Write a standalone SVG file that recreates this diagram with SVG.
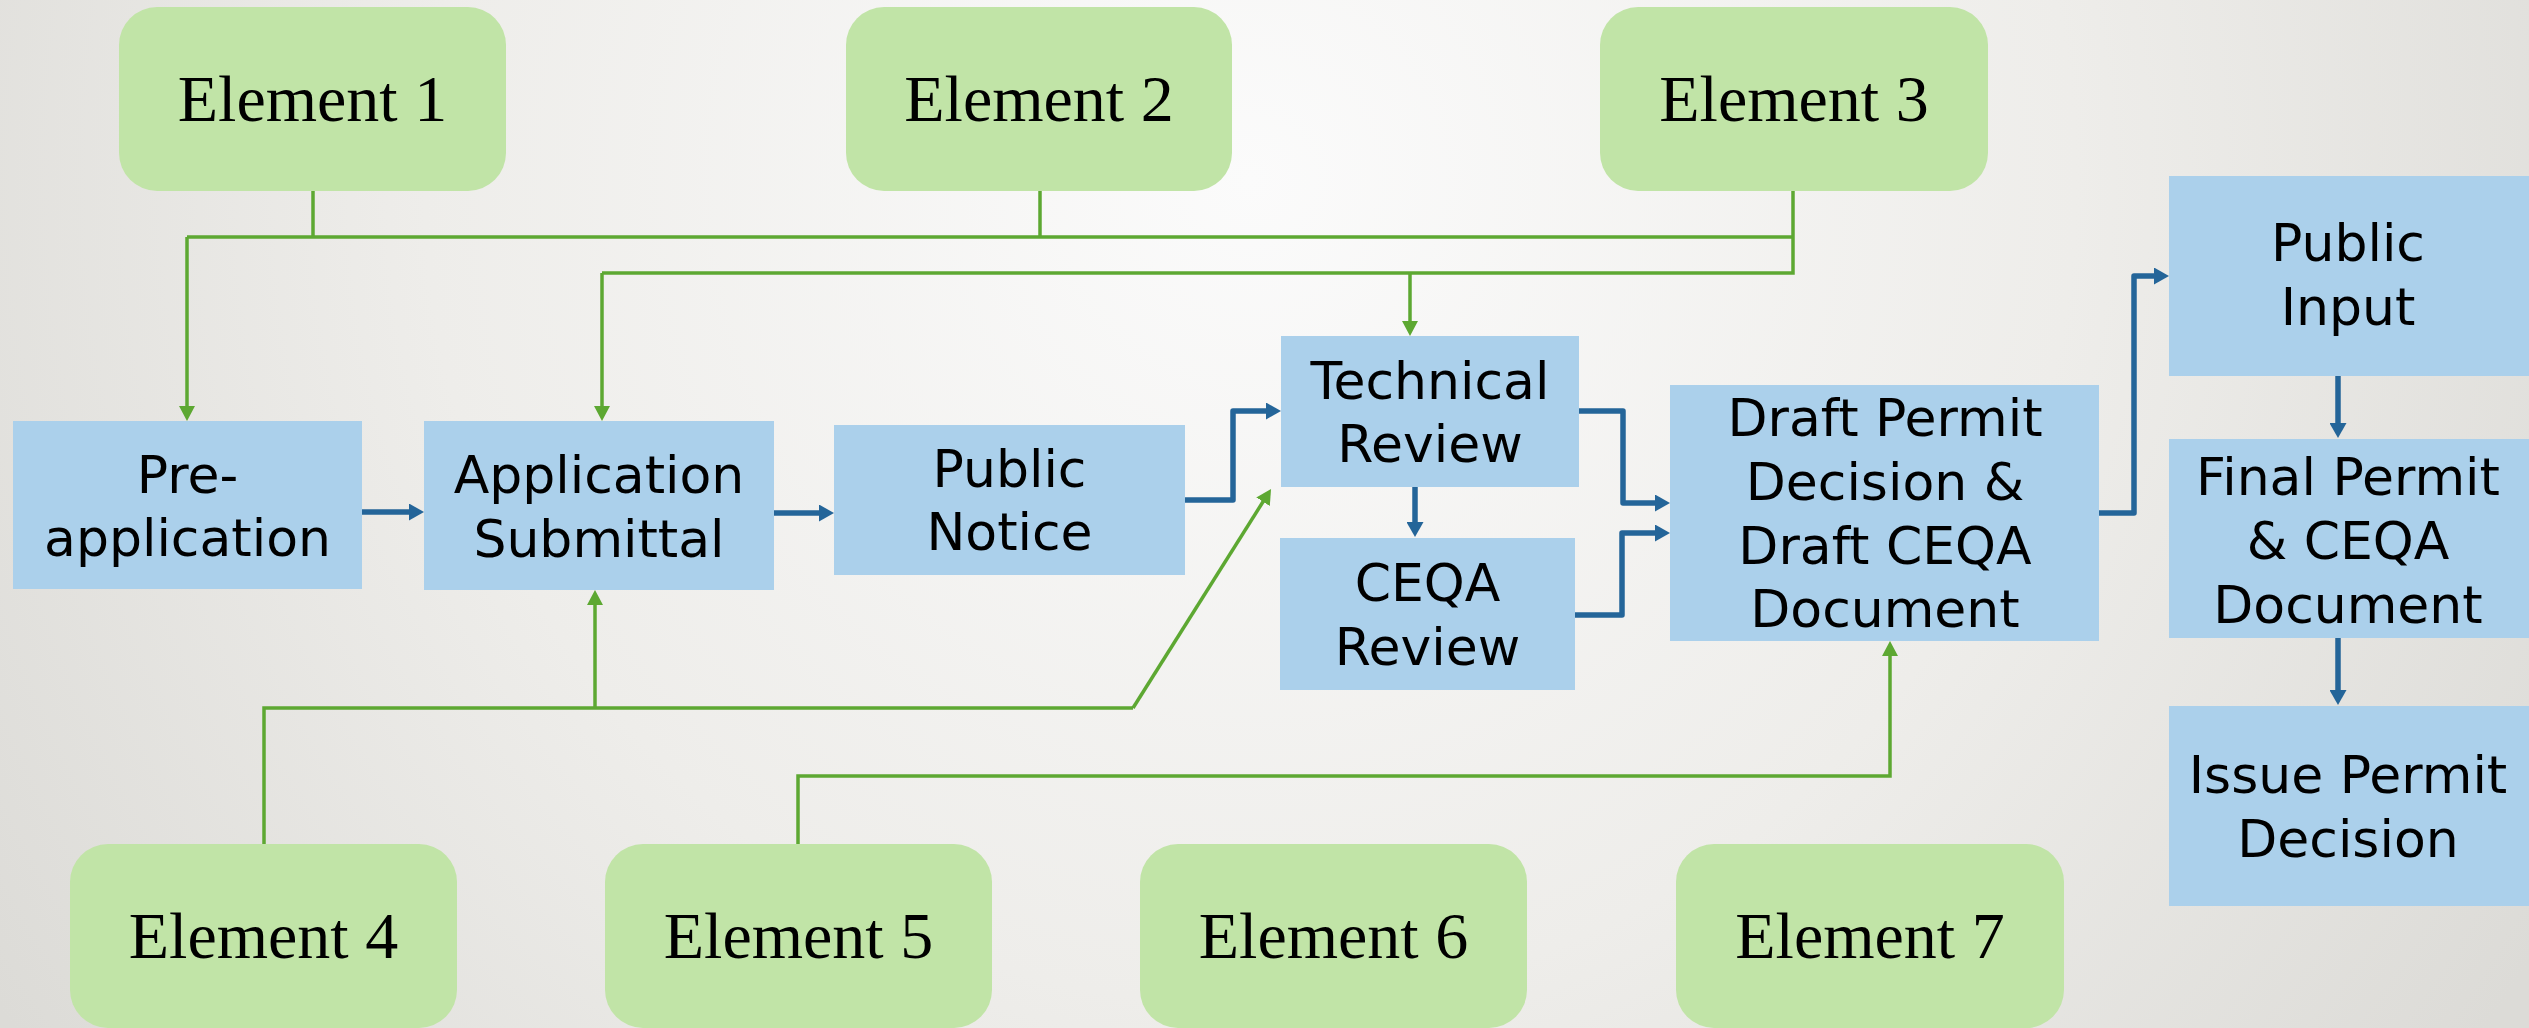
<svg xmlns="http://www.w3.org/2000/svg" width="2529" height="1028" viewBox="0 0 2529 1028">
<defs>
<radialGradient id="bg" cx="1250" cy="180" r="1500" gradientUnits="userSpaceOnUse">
<stop offset="0" stop-color="#FBFBFB"/>
<stop offset="0.55" stop-color="#EEEDEA"/>
<stop offset="1" stop-color="#DCDBD7"/>
</radialGradient>
<marker id="ga" markerUnits="userSpaceOnUse" markerWidth="16" markerHeight="16" refX="5" refY="8" orient="auto" viewBox="0 0 16 16">
<path d="M0,0 L15,8 L0,16 z" fill="#5DA832"/>
</marker>
<marker id="ba" markerUnits="userSpaceOnUse" markerWidth="16" markerHeight="17" refX="5" refY="8.5" orient="auto" viewBox="0 0 16 17">
<path d="M0,0 L15,8.5 L0,17 z" fill="#246599"/>
</marker>
</defs>
<style>
.el{fill:#C1E4A7}
.bx{fill:#ABD0EB}
.et{font-family:"Liberation Serif",serif;font-size:66px;fill:#000;text-anchor:middle}
.bt{font-family:"DejaVu Sans",sans-serif;font-size:52px;fill:#000;text-anchor:middle}
.g{fill:none;stroke:#5DA832;stroke-width:3.5}
.ga{fill:none;stroke:#5DA832;stroke-width:3.5;marker-end:url(#ga)}
.b{fill:none;stroke:#246599;stroke-width:5.5;stroke-linejoin:round;marker-end:url(#ba)}
</style>
<rect x="0" y="0" width="2529" height="1028" fill="url(#bg)"/>

<g id="connectors">
<!-- top green -->
<path class="g" d="M313,191 V237"/>
<path class="g" d="M1040,191 V238"/>
<path class="g" d="M187,237 H1793 M1793,191 V273 H602"/>
<path class="ga" d="M187,237 V411"/>
<path class="ga" d="M602,273 V411"/>
<path class="ga" d="M1410,273 V326"/>
<!-- bottom green -->
<path class="g" d="M264,844 V708 H1133"/>
<path class="ga" d="M1133,708 L1265.7,497.5"/>
<path class="ga" d="M595,708 V600"/>
<path class="ga" d="M798,844 V776 H1890 V651"/>
<!-- blue -->
<path class="b" d="M362,512 H414"/>
<path class="b" d="M774,513 H824"/>
<path class="b" d="M1185,500 H1233 V411 H1271"/>
<path class="b" d="M1415,487 V527"/>
<path class="b" d="M1579,411 H1623 V503 H1660"/>
<path class="b" d="M1575,615 H1622 V533 H1660"/>
<path class="b" d="M2099,513 H2134 V276 H2159"/>
<path class="b" d="M2338,375 V428"/>
<path class="b" d="M2338,638 V695"/>
</g>

<g id="element1"><rect class="el" x="119" y="7" width="387" height="184" rx="38"/><text class="et" x="312.5" y="121">Element 1</text></g>
<g id="element2"><rect class="el" x="846" y="7" width="386" height="184" rx="38"/><text class="et" x="1039" y="121">Element 2</text></g>
<g id="element3"><rect class="el" x="1600" y="7" width="388" height="184" rx="38"/><text class="et" x="1794" y="121">Element 3</text></g>
<g id="element4"><rect class="el" x="70" y="844" width="387" height="184" rx="38"/><text class="et" x="263.5" y="958">Element 4</text></g>
<g id="element5"><rect class="el" x="605" y="844" width="387" height="184" rx="38"/><text class="et" x="798.5" y="958">Element 5</text></g>
<g id="element6"><rect class="el" x="1140" y="844" width="387" height="184" rx="38"/><text class="et" x="1333.5" y="958">Element 6</text></g>
<g id="element7"><rect class="el" x="1676" y="844" width="388" height="184" rx="38"/><text class="et" x="1870" y="958">Element 7</text></g>

<g id="preapp"><rect class="bx" x="13" y="421" width="349" height="168"/><text class="bt" x="187.5" y="493">Pre-</text><text class="bt" x="187.5" y="556">application</text></g>
<g id="appsub"><rect class="bx" x="424" y="421" width="350" height="169"/><text class="bt" x="599" y="493">Application</text><text class="bt" x="599" y="557">Submittal</text></g>
<g id="notice"><rect class="bx" x="834" y="425" width="351" height="150"/><text class="bt" x="1009.5" y="487">Public</text><text class="bt" x="1009.5" y="550">Notice</text></g>
<g id="tech"><rect class="bx" x="1281" y="336" width="298" height="151"/><text class="bt" x="1430" y="399">Technical</text><text class="bt" x="1430" y="462">Review</text></g>
<g id="ceqa"><rect class="bx" x="1280" y="538" width="295" height="152"/><text class="bt" x="1427.5" y="601">CEQA</text><text class="bt" x="1427.5" y="665">Review</text></g>
<g id="draft"><rect class="bx" x="1670" y="385" width="429" height="256"/><text class="bt" x="1885" y="436">Draft Permit</text><text class="bt" x="1885" y="500">Decision &amp;</text><text class="bt" x="1885" y="564">Draft CEQA</text><text class="bt" x="1885" y="627">Document</text></g>
<g id="input"><rect class="bx" x="2169" y="176" width="360" height="200"/><text class="bt" x="2348" y="261">Public</text><text class="bt" x="2348" y="325">Input</text></g>
<g id="final"><rect class="bx" x="2169" y="439" width="360" height="199"/><text class="bt" x="2348" y="495">Final Permit</text><text class="bt" x="2348" y="559">&amp; CEQA</text><text class="bt" x="2348" y="623">Document</text></g>
<g id="issue"><rect class="bx" x="2169" y="706" width="360" height="200"/><text class="bt" x="2348" y="793">Issue Permit</text><text class="bt" x="2348" y="857">Decision</text></g>
</svg>
